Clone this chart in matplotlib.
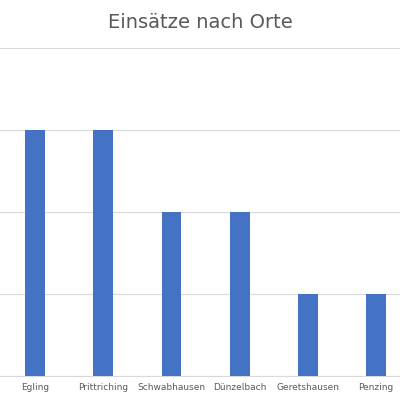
import matplotlib
matplotlib.use("Agg")
import matplotlib.pyplot as plt

orte = ["Egling", "Prittriching", "Schwabhausen", "Dünzelbach", "Geretshausen", "Penzing"]
einsaetze = [3, 3, 2, 2, 1, 1]

fig = plt.figure(figsize=(4, 4), dpi=100)
ax = fig.add_axes([0, 0.06, 1, 0.82])
x = range(len(orte))
ax.bar(x, einsaetze, width=0.29, color="#4472C4", zorder=3)
ax.set_xlim(-0.513, 5.35)
ax.set_ylim(0, 4)
ax.set_yticks([0, 1, 2, 3, 4])
ax.yaxis.grid(True, color="#d9d9d9", linewidth=0.8, zorder=0)
ax.tick_params(axis="y", left=False, labelleft=False)
ax.tick_params(axis="x", length=0, labelsize=6.5, colors="#595959", pad=5)
ax.set_xticks(list(x))
ax.set_xticklabels(orte)
for s in ["top", "left", "right"]:
    ax.spines[s].set_visible(False)
ax.spines["bottom"].set_color("#d9d9d9")
fig.text(0.5, 0.945, "Einsätze nach Orte", ha="center", va="center", fontsize=14, color="#595959")
fig.savefig("out.png", dpi=100)
